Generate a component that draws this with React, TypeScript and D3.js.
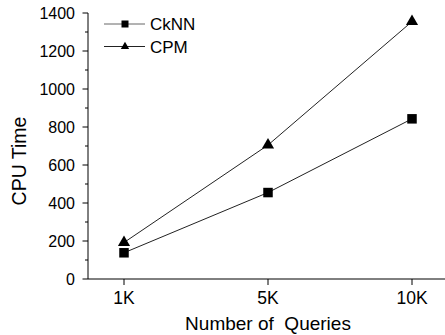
import React from "react";
import * as d3 from "d3";

const categories = ["1K", "5K", "10K"];
const cknn = [138, 455, 843];
const cpm = [192, 705, 1355];
const yTicks = [0, 200, 400, 600, 800, 1000, 1200, 1400];
const yMinor = d3.range(100, 1400, 200);
const seriesNames = ["CkNN", "CPM"];

const W = 445, H = 335;
const FONT = "Liberation Sans, Arial, Helvetica, sans-serif";

export default function App() {
  const x = d3.scaleLinear().domain([-0.25, 2.25]).range([88, 448]);
  const y = d3.scaleLinear().domain([0, 1400]).range([279, 13]);
  const line = d3.line<number>().x((_, i) => x(i)).y((d) => y(d));
  const tri = d3.symbol().type(d3.symbolTriangle).size(64)();
  const triL = d3.symbol().type(d3.symbolTriangle).size(30)();
  const sq = 9.5;
  const sqL = 7;
  const stroke = "#222";
  return (
    <svg width={W} height={H} style={{ position: "absolute", left: 0, top: 0, background: "#fff" }}>
      <g fontFamily={FONT} fill="#000">
        {/* axes */}
        <line x1={88} x2={88} y1={y(1400)} y2={279} stroke="#000" strokeWidth={1} />
        <line x1={88} x2={448} y1={279} y2={279} stroke="#000" strokeWidth={1} />
        {yTicks.map((t) => (
          <g key={t}>
            <line x1={82.5} x2={88} y1={y(t)} y2={y(t)} stroke="#000" />
            <text x={75} y={y(t)} dy="0.36em" textAnchor="end" fontSize={16}>{t}</text>
          </g>
        ))}
        {yMinor.map((t) => (
          <line key={t} x1={85} x2={88} y1={y(t)} y2={y(t)} stroke="#000" />
        ))}
        {categories.map((c, i) => (
          <g key={c}>
            <line x1={x(i)} x2={x(i)} y1={279} y2={285} stroke="#000" />
            <text x={x(i)} y={304} textAnchor="middle" fontSize={17.5}>{c}</text>
          </g>
        ))}
        <text x={268} y={330} textAnchor="middle" fontSize={19} xmlSpace="preserve">Number of  Queries</text>
        <text transform={`translate(26,161) rotate(-90)`} textAnchor="middle" fontSize={19.5}>CPU Time</text>

        {/* series */}
        <path d={line(cknn) || ""} fill="none" stroke={stroke} strokeWidth={1} />
        <path d={line(cpm) || ""} fill="none" stroke={stroke} strokeWidth={1} />
        {cknn.map((v, i) => (
          <rect key={i} x={x(i) - sq / 2} y={y(v) - sq / 2} width={sq} height={sq} fill="#000" />
        ))}
        {cpm.map((v, i) => (
          <path key={i} d={tri || ""} transform={`translate(${x(i)},${y(v)})`} fill="#000" />
        ))}

        {/* legend */}
        <line x1={104} x2={145} y1={24} y2={24} stroke="#666" strokeWidth={1} />
        <rect x={125 - sqL / 2} y={24 - sqL / 2} width={sqL} height={sqL} fill="#000" />
        <text x={150} y={24} dy="0.36em" fontSize={17}>{seriesNames[0]}</text>
        <line x1={104} x2={145} y1={46.5} y2={46.5} stroke={stroke} strokeWidth={1} />
        <path d={triL || ""} transform={`translate(125,46.5)`} fill="#000" />
        <text x={150} y={46.5} dy="0.36em" fontSize={17}>{seriesNames[1]}</text>
      </g>
    </svg>
  );
}
